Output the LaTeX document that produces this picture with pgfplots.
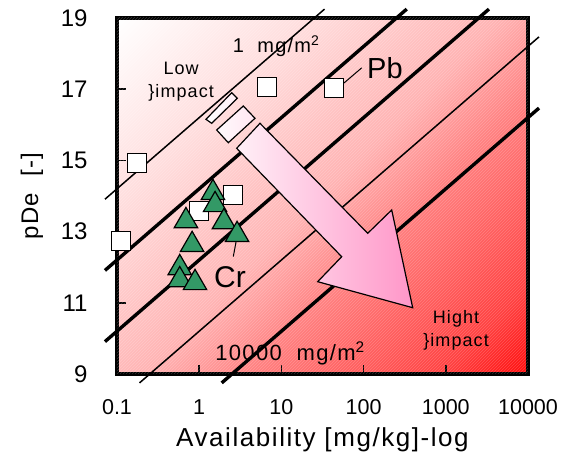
\documentclass[border=0pt]{standalone}
\usepackage{pgfplots}
\pgfplotsset{compat=1.18}
\usepackage{fontspec}
\setmainfont{Liberation Sans}
\newfontfamily\spfont[LetterSpace=6]{Liberation Sans}
\usetikzlibrary{patterns}
\definecolor{trigreen}{RGB}{51,153,102}
\definecolor{arrowpink}{RGB}{255,150,200}
\pgfdeclareverticalshading{bgshade}{100bp}{color(0bp)=(white); color(14.6bp)=(white); color(32bp)=(red!13); color(50bp)=(red!30); color(61bp)=(red!52); color(77bp)=(red!74); color(85.4bp)=(red!95); color(100bp)=(red!95)}
\begin{document}
\begin{tikzpicture}
\path[use as bounding box] (-117pt,-81pt) rectangle (454pt,374pt);
\begin{axis}[
  at={(0pt,0pt)}, anchor=south west,
  scale only axis, width=411pt, height=356pt,
  xmode=log, xmin=0.1, xmax=10000, ymin=9, ymax=19,
  xtick={0.1,1,10,100,1000,10000},
  xticklabels={0.1,1,10,100,1000,10000},
  ytick={9,11,13,15,17,19},
  xminorticks=false, yminorticks=false,
  tick pos=left, tick align=inside,
  major tick length=9pt,
  every tick/.style={black, line width=1.6pt},
  axis line style={line width=3.6pt},
  clip=false,
  axis background/.style={shading=bgshade, shading angle=225},
  /pgf/number format/assume math mode=true,
  xticklabel style={font=\fontsize{21.5}{24}\selectfont, yshift=-22pt},
  yticklabel style={font=\fontsize{24}{28}\selectfont, xshift=-26pt},
  xlabel={Availability [mg/kg]-log},
  ylabel={pDe~~[-]},
  xlabel style={at={(axis description cs:0.5,-0.185)}, anchor=center, font=\spfont\fontsize{26}{30}\selectfont},
  ylabel style={at={(axis description cs:-0.207,0.5)}, anchor=center, font=\spfont\fontsize{24}{28}\selectfont},
]
\fill[pattern=north east lines, pattern color=white, opacity=0.2] (rel axis cs:0,0) rectangle (rel axis cs:1,1);
% iso-lines
\addplot[black, line width=1.5pt] coordinates {(0.0714,13.91) (33.5,19.25)};
\addplot[black, line width=3.4pt] coordinates {(0.0714,11.91) (335,19.25)};
\addplot[black, line width=3.4pt] coordinates {(0.0714,9.91) (3350,19.25)};
\addplot[black, line width=1.5pt] coordinates {(0.188,8.75) (13614,18.47)};
\addplot[black, line width=3.4pt] coordinates {(1.88,8.75) (13614,16.47)};
% arrow
\path[draw=black, line width=1.2pt, left color=white, right color=arrowpink]
 (rel axis cs:0.2165,0.7154) -- (rel axis cs:0.2791,0.7902) -- (rel axis cs:0.2927,0.7744) -- (rel axis cs:0.2304,0.7042) -- cycle
 (rel axis cs:0.2426,0.6854) -- (rel axis cs:0.3073,0.7528) -- (rel axis cs:0.3358,0.7183) -- (rel axis cs:0.2708,0.6497) -- cycle
 (rel axis cs:0.2912,0.6340) -- (rel axis cs:0.3479,0.7042) -- (rel axis cs:0.6100,0.3952) -- (rel axis cs:0.6684,0.4607) -- (rel axis cs:0.7195,0.1862) -- (rel axis cs:0.4883,0.2593) -- (rel axis cs:0.5467,0.3295) -- cycle;
% data
\addplot[only marks, mark=square*, mark size=9.5pt, mark options={fill=white, draw=black, line width=1.2pt}]
 coordinates {(0.112,12.74) (0.175,14.93) (1.0,13.58) (2.58,14.03) (6.7,17.06) (43.7,17.03)};
\addplot[only marks, mark=triangle*, mark size=13.5pt, mark options={fill=trigreen, draw=black, line width=1.2pt}]
 coordinates {(1.47,14.09) (1.56,13.75) (0.69,13.30) (2.0,13.27) (2.89,12.91) (0.82,12.63) (0.58,11.98) (0.58,11.64) (0.89,11.56)};
\addplot[black, line width=1pt] coordinates {(47.1,17.0) (94.9,17.6)};
\addplot[black, line width=1pt] coordinates {(2.86,12.81) (2.60,12.30)};
% labels
\node[anchor=base, font=\spfont\fontsize{20}{24}\selectfont] at (rel axis cs:0.387,0.902) {1~~mg/m\textsuperscript{2}};
\node[anchor=base, font=\spfont\fontsize{18}{22}\selectfont] at (rel axis cs:0.156,0.840) {Low};
\node[anchor=base, font=\spfont\fontsize{18}{22}\selectfont] at (rel axis cs:0.156,0.778) {\}impact};
\node[anchor=base, font=\spfont\fontsize{18}{22}\selectfont] at (rel axis cs:0.825,0.143) {Hight};
\node[anchor=base, font=\spfont\fontsize{18}{22}\selectfont] at (rel axis cs:0.825,0.076) {\}impact};
\node[anchor=base, font=\spfont\fontsize{22}{26}\selectfont] at (rel axis cs:0.421,0.039) {10000~~mg/m\textsuperscript{2}};
\node[anchor=base, font=\fontsize{29}{32}\selectfont] at (rel axis cs:0.652,0.831) {Pb};
\node[anchor=base, font=\fontsize{30}{33}\selectfont] at (rel axis cs:0.275,0.244) {Cr};
\end{axis}
\end{tikzpicture}
\end{document}
